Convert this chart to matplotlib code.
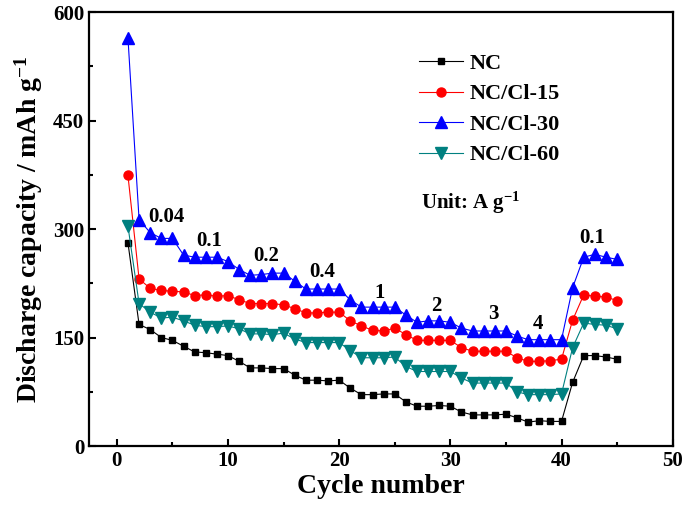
import numpy as np
import matplotlib
matplotlib.use("Agg")
import matplotlib.pyplot as plt
from matplotlib.ticker import MultipleLocator

plt.rcParams['font.family'] = ['Liberation Serif', 'DejaVu Serif']
plt.rcParams['font.weight'] = 'bold'
plt.rcParams['mathtext.fontset'] = 'custom'
plt.rcParams['mathtext.rm'] = 'Liberation Serif:bold'
plt.rcParams['mathtext.bf'] = 'Liberation Serif:bold'
plt.rcParams['mathtext.default'] = 'bf'

cycles = np.arange(1, 46)

nc = [281, 168, 161, 150, 146, 138, 130, 129, 127, 125,
      117, 108, 108, 107, 107, 98, 91, 91, 90, 91,
      80, 71, 71, 72, 72, 61, 55, 55, 56, 55,
      47, 43, 43, 43, 44, 39, 33, 35, 34, 34,
      88, 125, 125, 123, 120]
nc_cl15 = [374, 231, 218, 215, 214, 213, 208, 209, 207, 208,
           202, 197, 197, 197, 195, 190, 184, 184, 185, 185,
           173, 166, 160, 159, 163, 154, 146, 146, 146, 146,
           136, 131, 131, 131, 131, 122, 117, 117, 118, 120,
           174, 209, 207, 206, 201]
nc_cl30 = [564, 313, 295, 287, 287, 264, 261, 261, 261, 255,
           244, 236, 237, 239, 239, 228, 217, 217, 217, 217,
           202, 192, 192, 192, 192, 181, 171, 173, 173, 171,
           163, 159, 159, 159, 159, 152, 147, 147, 147, 147,
           219, 261, 265, 261, 258]
nc_cl60 = [304, 197, 185, 177, 178, 173, 167, 165, 165, 166,
           162, 155, 155, 154, 156, 148, 143, 143, 143, 143,
           132, 122, 122, 122, 123, 110, 103, 103, 103, 103,
           94, 87, 87, 87, 87, 75, 71, 71, 71, 72,
           136, 170, 168, 167, 162]

rate_labels = ['0.04', '0.1', '0.2', '0.4', '1', '2', '3', '4', '0.1']
rate_x = [4.5, 8.3, 13.4, 18.5, 23.6, 28.7, 33.9, 37.9, 42.8]
rate_y = [317, 283, 262, 240, 212, 194, 182, 169, 287]

fig = plt.figure(figsize=(6.85, 5.13), dpi=100)
ax = fig.add_axes([0.130, 0.1306, 0.852, 0.846])

ax.plot(cycles, nc, '-s', color='black', lw=0.8, ms=5, label='NC')
ax.plot(cycles, nc_cl15, '-o', color='red', lw=0.8, ms=6.5, label='NC/Cl-15')
ax.plot(cycles, nc_cl30, '-^', color='blue', lw=0.8, ms=8, label='NC/Cl-30')
ax.plot(cycles, nc_cl60, '-v', color='#008080', lw=0.8, ms=8, label='NC/Cl-60')

for t, x, y in zip(rate_labels, rate_x, rate_y):
    ax.text(x, y, t, ha='center', va='center', fontsize=15, fontweight='bold')

ax.text(27.4, 336, 'Unit: A g$^{-1}$', ha='left', va='center', fontsize=15, fontweight='bold')

ax.set_xlim(-2.5, 50)
ax.set_ylim(0, 600)
ax.xaxis.set_major_locator(MultipleLocator(10))
ax.xaxis.set_minor_locator(MultipleLocator(5))
ax.yaxis.set_major_locator(MultipleLocator(150))
ax.yaxis.set_minor_locator(MultipleLocator(75))
ax.tick_params(which='both', direction='in', width=1.5, labelsize=15)
ax.tick_params(which='major', length=5)
ax.tick_params(which='minor', length=3)
for s in ax.spines.values():
    s.set_linewidth(1.6)

ax.set_xlabel('Cycle number', fontsize=20, fontweight='bold', labelpad=2)
ax.set_ylabel('Discharge capacity / mAh g$^{-1}$', fontsize=20, fontweight='bold', labelpad=6)

ax.legend(loc='upper left', bbox_to_anchor=(0.565, 0.905), frameon=False,
          fontsize=16, handlelength=2.0, handletextpad=0.3, labelspacing=0.45,
          borderpad=0, borderaxespad=0)

plt.savefig('out.png', dpi=100)
